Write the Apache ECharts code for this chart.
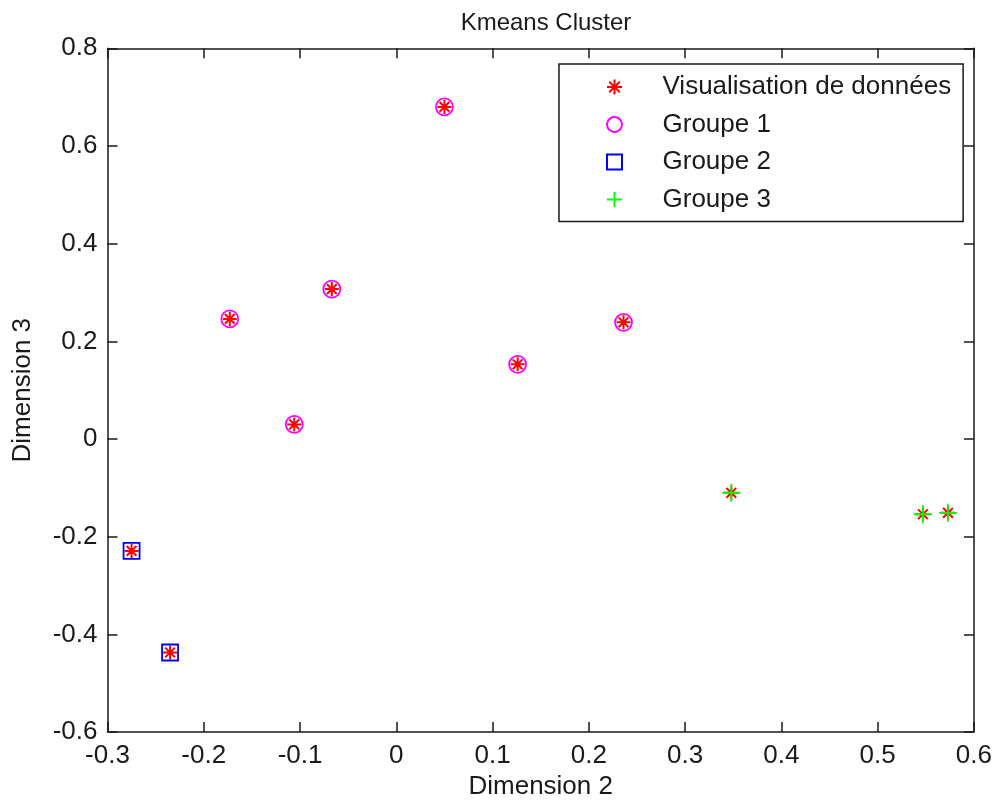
<!DOCTYPE html>
<html>
<head>
<meta charset="utf-8">
<script src="https://cdn.jsdelivr.net/npm/echarts@6/dist/echarts.min.js"></script>
<style>
html,body{margin:0;padding:0;background:#fff;}
#chart{width:995px;height:805px;}
</style>
</head>
<body>
<div id="chart"></div>
<script>
// Data (Dimension 2, Dimension 3)
var groupe1 = [[0.050, 0.680], [-0.067, 0.307], [-0.173, 0.246], [-0.106, 0.030], [0.126, 0.153], [0.236, 0.239]];
var groupe2 = [[-0.275, -0.229], [-0.235, -0.437]];
var groupe3 = [[0.348, -0.110], [0.547, -0.154], [0.573, -0.151]];
var allPoints = groupe1.concat(groupe2).concat(groupe3);
var seriesNames = ['Visualisation de données', 'Groupe 1', 'Groupe 2', 'Groupe 3'];
var titleText = 'Kmeans Cluster';
var xName = 'Dimension 2';
var yName = 'Dimension 3';

var FONT = 'Liberation Sans, Arial, sans-serif';
var ASTER = 'path://M5 0L5 10M0 5L10 5M1.5 1.5L8.5 8.5M8.5 1.5L1.5 8.5';
var PLUS = 'path://M5 0L5 10M0 5L10 5';
var SQUARE = 'path://M0 0L10 0L10 10L0 10Z';

var chart = echarts.init(document.getElementById('chart'), null, {renderer: 'canvas'});
var axisLine = {show: true, onZero: false, lineStyle: {color: '#1a1a1a', width: 1.5}};
var axisTick = {show: true, inside: true, length: 10, lineStyle: {color: '#1a1a1a', width: 1.5}};
var labelStyle = {color: '#1a1a1a', fontFamily: FONT, fontSize: 26};

chart.setOption({
  backgroundColor: '#fff',
  animation: false,
  title: {
    text: titleText, left: 541, top: 6, textAlign: 'center',
    textStyle: {color: '#1a1a1a', fontFamily: FONT, fontSize: 24, fontWeight: 'normal'}
  },
  grid: {left: 107.5, right: 20, top: 48.3, bottom: 71.7, containLabel: false,
         show: false},
  legend: {
    orient: 'vertical', left: 559, top: 64,
    padding: [10, 12, 9, 47],
    itemGap: 11.5, itemWidth: 86, itemHeight: 15,
    symbolKeepAspect: true,
    borderColor: '#1a1a1a', borderWidth: 1.5, backgroundColor: '#fff',
    textStyle: {color: '#1a1a1a', fontFamily: FONT, fontSize: 26},
    data: seriesNames
  },
  xAxis: [{
    type: 'value', min: -0.3, max: 0.6, interval: 0.1, position: 'bottom',
    name: xName, nameLocation: 'middle', nameGap: 40,
    nameTextStyle: labelStyle,
    axisLine: axisLine, axisTick: axisTick,
    axisLabel: Object.assign({margin: 11}, labelStyle),
    splitLine: {show: false}
  }, {
    type: 'value', min: -0.3, max: 0.6, interval: 0.1, position: 'top',
    axisLine: axisLine, axisTick: axisTick, axisLabel: {show: false}, splitLine: {show: false}
  }],
  yAxis: [{
    type: 'value', min: -0.6, max: 0.8, interval: 0.2, position: 'left',
    name: yName, nameLocation: 'middle', nameGap: 72,
    nameTextStyle: labelStyle,
    axisLine: axisLine, axisTick: axisTick,
    axisLabel: Object.assign({margin: 10}, labelStyle),
    splitLine: {show: false}
  }, {
    type: 'value', min: -0.6, max: 0.8, interval: 0.2, position: 'right',
    axisLine: axisLine, axisTick: axisTick, axisLabel: {show: false}, splitLine: {show: false}
  }],
  series: [{
    name: seriesNames[0], type: 'scatter', data: allPoints,
    symbol: ASTER, symbolSize: 14, z: 2, symbolKeepAspect: true,
    itemStyle: {color: 'rgba(0,0,0,0)', borderColor: '#ff0000', borderWidth: 2, opacity: 1}
  }, {
    name: seriesNames[1], type: 'scatter', data: groupe1,
    symbol: 'circle', symbolSize: 17, z: 3, symbolKeepAspect: true,
    itemStyle: {color: 'rgba(0,0,0,0)', borderColor: '#ff00ff', borderWidth: 1.8, opacity: 1}
  }, {
    name: seriesNames[2], type: 'scatter', data: groupe2,
    symbol: SQUARE, symbolSize: 16, z: 3, symbolKeepAspect: true,
    itemStyle: {color: 'rgba(0,0,0,0)', borderColor: '#0000ff', borderWidth: 1.8, opacity: 1}
  }, {
    name: seriesNames[3], type: 'scatter', data: groupe3,
    symbol: PLUS, symbolSize: 18, z: 3, symbolKeepAspect: true,
    itemStyle: {color: 'rgba(0,0,0,0)', borderColor: '#00ff00', borderWidth: 1.8, opacity: 1}
  }]
});
</script>
</body>
</html>
